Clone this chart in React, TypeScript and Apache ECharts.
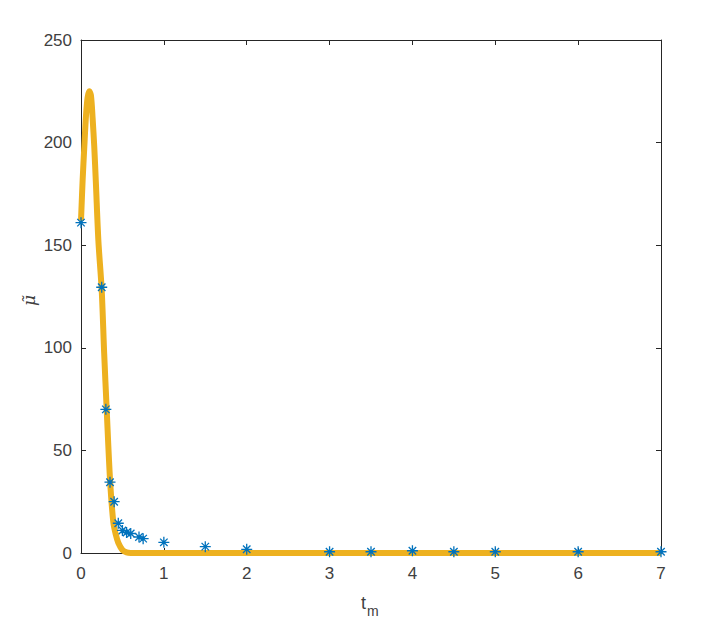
import React, { useEffect, useRef } from "react";
import * as echarts from "echarts";

// Measured data (blue asterisks)
const measuredT = [0, 0.25, 0.3, 0.35, 0.4, 0.45, 0.5, 0.55, 0.6, 0.7, 0.75, 1, 1.5, 2, 3, 3.5, 4, 4.5, 5, 6, 7];
const measuredMu = [161, 129.5, 70, 34.5, 25, 14.5, 11, 10, 9.5, 7.8, 7, 5.2, 3.1, 1.8, 0.6, 0.6, 1.1, 0.6, 0.6, 0.6, 0.6];

// Fitted curve (yellow line)
const fitT = [0, 0.02, 0.04, 0.06, 0.08, 0.1, 0.12, 0.14, 0.16, 0.18, 0.21, 0.25, 0.28, 0.31, 0.35, 0.39, 0.42, 0.45, 0.5, 0.55, 0.6, 1, 2, 3, 4, 5, 6, 7];
const fitMu = [162, 182, 198, 213, 222, 225, 223, 212, 198, 180, 152, 128, 97, 70, 36, 15, 9, 5, 1.5, 0.3, 0, 0, 0, 0, 0, 0, 0, 0];

const xTicks = { min: 0, max: 7, interval: 1 };
const yTicks = { min: 0, max: 250, interval: 50 };

const AXIS_COLOR = "#262626";
const LABEL_COLOR = "#404040";
const FONT = "'Liberation Sans', Arial, Helvetica, sans-serif";

export default function App() {
  const ref = useRef<HTMLDivElement>(null);

  useEffect(() => {
    document.body.style.margin = "0";
    if (!ref.current) return;
    const chart = echarts.init(ref.current, undefined, { renderer: "svg" });

    const baseAxisLine = { show: true, lineStyle: { color: AXIS_COLOR, width: 1 } };
    const baseTick = { show: true, inside: true, length: 5, lineStyle: { color: AXIS_COLOR, width: 1 } };

    chart.setOption({
      animation: false,
      backgroundColor: "#ffffff",
      grid: { left: 81, right: 45, top: 40, bottom: 72, containLabel: false },
      xAxis: [
        {
          type: "value",
          position: "bottom",
          ...xTicks,
          axisLine: { ...baseAxisLine, onZero: false },
          axisTick: baseTick,
          splitLine: { show: false },
          axisLabel: { color: LABEL_COLOR, fontSize: 17, fontFamily: FONT, margin: 12 },
        },
        {
          type: "value",
          position: "top",
          ...xTicks,
          axisLine: { ...baseAxisLine, onZero: false },
          axisTick: baseTick,
          splitLine: { show: false },
          axisLabel: { show: false },
        },
      ],
      yAxis: [
        {
          type: "value",
          position: "left",
          ...yTicks,
          axisLine: { ...baseAxisLine, onZero: false },
          axisTick: baseTick,
          splitLine: { show: false },
          axisLabel: { color: LABEL_COLOR, fontSize: 17, fontFamily: FONT, margin: 9 },
        },
        {
          type: "value",
          position: "right",
          ...yTicks,
          axisLine: { ...baseAxisLine, onZero: false },
          axisTick: baseTick,
          splitLine: { show: false },
          axisLabel: { show: false },
        },
      ],
      series: [
        {
          type: "line",
          data: fitT.map((t, i) => [t, fitMu[i]]),
          smooth: 0.3,
          showSymbol: false,
          lineStyle: { color: "#EDB120", width: 6 },
          z: 2,
        },
        {
          type: "scatter",
          data: measuredT.map((t, i) => [t, measuredMu[i]]),
          symbol: "path://M5 0 L5 10 M0 5 L10 5 M1.6 1.6 L8.4 8.4 M1.6 8.4 L8.4 1.6",
          symbolSize: 11,
          itemStyle: { color: "transparent", borderColor: "#0072BD", borderWidth: 1.3, opacity: 1 },
          z: 3,
        },
      ],
      graphic: [
        {
          type: "text",
          left: 361,
          top: 594,
          style: { text: "t", fontSize: 18, fontFamily: FONT, fill: LABEL_COLOR },
        },
        {
          type: "text",
          left: 367,
          top: 604,
          style: { text: "m", fontSize: 14, fontFamily: FONT, fill: LABEL_COLOR },
        },
        {
          type: "text",
          x: 20,
          y: 306,
          rotation: Math.PI / 2,
          style: {
            text: "\u03BC\u0303",
            fontSize: 17,
            fontStyle: "italic",
            fontFamily: "'DejaVu Serif', 'Liberation Serif', serif",
            fill: LABEL_COLOR,
            textVerticalAlign: "top",
          },
        },
      ],
    });

    return () => chart.dispose();
  }, []);

  return <div ref={ref} style={{ width: 706, height: 625 }} />;
}
